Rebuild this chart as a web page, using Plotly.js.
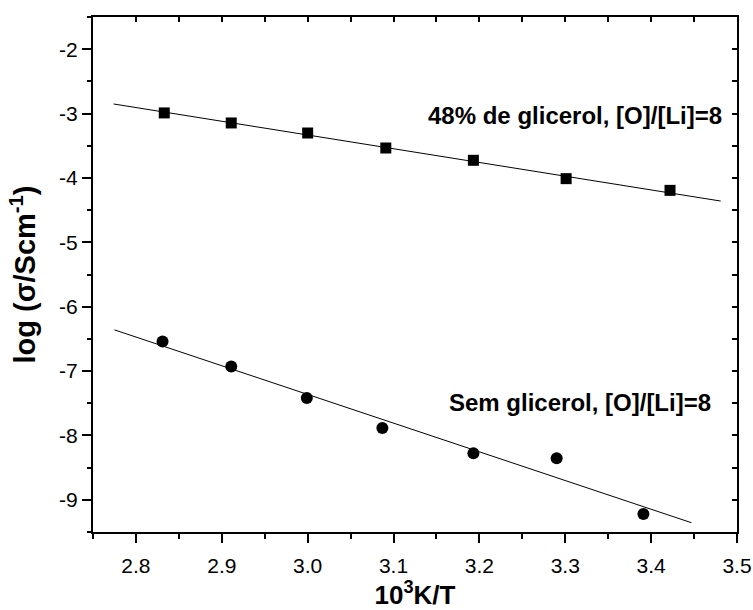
<!DOCTYPE html>
<html>
<head>
<meta charset="utf-8">
<script src="https://cdn.plot.ly/plotly-3.0.1.min.js"></script>
<style>
html,body{margin:0;padding:0;background:#fff;}
#chart{width:753px;height:610px;}
</style>
</head>
<body>
<div id="chart"></div>
<script>
// Data
const glycX = [2.833, 2.911, 3.000, 3.091, 3.193, 3.301, 3.422];
const glycY = [-2.99, -3.146, -3.302, -3.535, -3.726, -4.011, -4.193];
const noGlycX = [2.831, 2.911, 2.999, 3.087, 3.193, 3.290, 3.391];
const noGlycY = [-6.54, -6.93, -7.417, -7.883, -8.278, -8.356, -9.221];
// linear fit lines (end points)
const fitGlycX = [2.774, 3.481];
const fitGlycY = [-2.851, -4.359];
const fitNoGlycX = [2.775, 3.447];
const fitNoGlycY = [-6.36, -9.356];
// tick labels
const xTickVals = [2.8, 2.9, 3.0, 3.1, 3.2, 3.3, 3.4, 3.5];
const xTickText = ['2.8', '2.9', '3.0', '3.1', '3.2', '3.3', '3.4', '3.5'];
const yTickVals = [-2, -3, -4, -5, -6, -7, -8, -9];
const yTickText = ['-2', '-3', '-4', '-5', '-6', '-7', '-8', '-9'];
const labelGlyc = '48% de glicerol, [O]/[Li]=8';
const labelNoGlyc = 'Sem glicerol, [O]/[Li]=8';

const FONT = '"Liberation Sans", Arial, Helvetica, sans-serif';

const traces = [
  {x: fitGlycX, y: fitGlycY, mode: 'lines', line: {color: '#000', width: 1}, hoverinfo: 'skip'},
  {x: fitNoGlycX, y: fitNoGlycY, mode: 'lines', line: {color: '#000', width: 1}, hoverinfo: 'skip'},
  {x: glycX, y: glycY, mode: 'markers', marker: {symbol: 'square', size: 11, color: '#000'}},
  {x: noGlycX, y: noGlycY, mode: 'markers', marker: {symbol: 'circle', size: 12, color: '#000'}},
  {x: [null], y: [null], xaxis: 'x2', yaxis: 'y2', mode: 'markers', hoverinfo: 'skip'}
];

const layout = {
  width: 753, height: 610,
  margin: {l: 93, r: 16, t: 17, b: 78},
  paper_bgcolor: '#fff', plot_bgcolor: '#fff',
  showlegend: false,
  font: {family: FONT, color: '#000'},
  xaxis: {
    range: [2.75, 3.5], showgrid: false, zeroline: false,
    showline: true, linecolor: '#000', linewidth: 2,
    tickmode: 'array', tickvals: xTickVals, ticktext: xTickText,
    ticks: 'outside', ticklen: 9, tickwidth: 2, tickcolor: '#000',
    ticklabelstandoff: 5,
    minor: {dtick: 0.05, tick0: 2.75, ticks: 'outside', ticklen: 5, tickwidth: 2, tickcolor: '#000', showgrid: false},
    tickfont: {family: FONT, size: 21, color: '#000'},
    title: {text: '<b>10<sup>3</sup>K/T</b>', font: {family: FONT, size: 26, color: '#000'}, standoff: 18}
  },
  yaxis: {
    range: [-9.5, -1.5], showgrid: false, zeroline: false,
    showline: true, linecolor: '#000', linewidth: 2,
    tickmode: 'array', tickvals: yTickVals, ticktext: yTickText,
    ticks: 'outside', ticklen: 9, tickwidth: 2, tickcolor: '#000',
    minor: {dtick: 0.5, tick0: -9.5, ticks: 'outside', ticklen: 4, tickwidth: 2, tickcolor: '#000', showgrid: false},
    tickfont: {family: FONT, size: 21, color: '#000'},
    title: {text: '<b>log (σ/Scm<sup>-1</sup>)</b>', font: {family: FONT, size: 29, color: '#000'}, standoff: 15}
  },
  xaxis2: {
    overlaying: 'x', side: 'top', range: [2.75, 3.5], showgrid: false, zeroline: false,
    showline: true, linecolor: '#000', linewidth: 2,
    dtick: 0.05, tick0: 2.75, ticks: 'inside', ticklen: 5, tickwidth: 2, tickcolor: '#000',
    showticklabels: false
  },
  yaxis2: {
    overlaying: 'y', side: 'right', range: [-9.5, -1.5], showgrid: false, zeroline: false,
    showline: true, linecolor: '#000', linewidth: 2,
    dtick: 0.5, tick0: -9.5, ticks: 'inside', ticklen: 5, tickwidth: 2, tickcolor: '#000',
    showticklabels: false
  },
  annotations: [
    {x: 3.485, y: -3.03, xref: 'x', yref: 'y', xanchor: 'right', yanchor: 'middle', showarrow: false,
     text: '<b>' + labelGlyc + '</b>', font: {family: FONT, size: 24, color: '#000'}},
    {x: 3.472, y: -7.485, xref: 'x', yref: 'y', xanchor: 'right', yanchor: 'middle', showarrow: false,
     text: '<b>' + labelNoGlyc + '</b>', font: {family: FONT, size: 24, color: '#000'}}
  ]
};

Plotly.newPlot('chart', traces, layout, {displayModeBar: false, staticPlot: true});
</script>
</body>
</html>
